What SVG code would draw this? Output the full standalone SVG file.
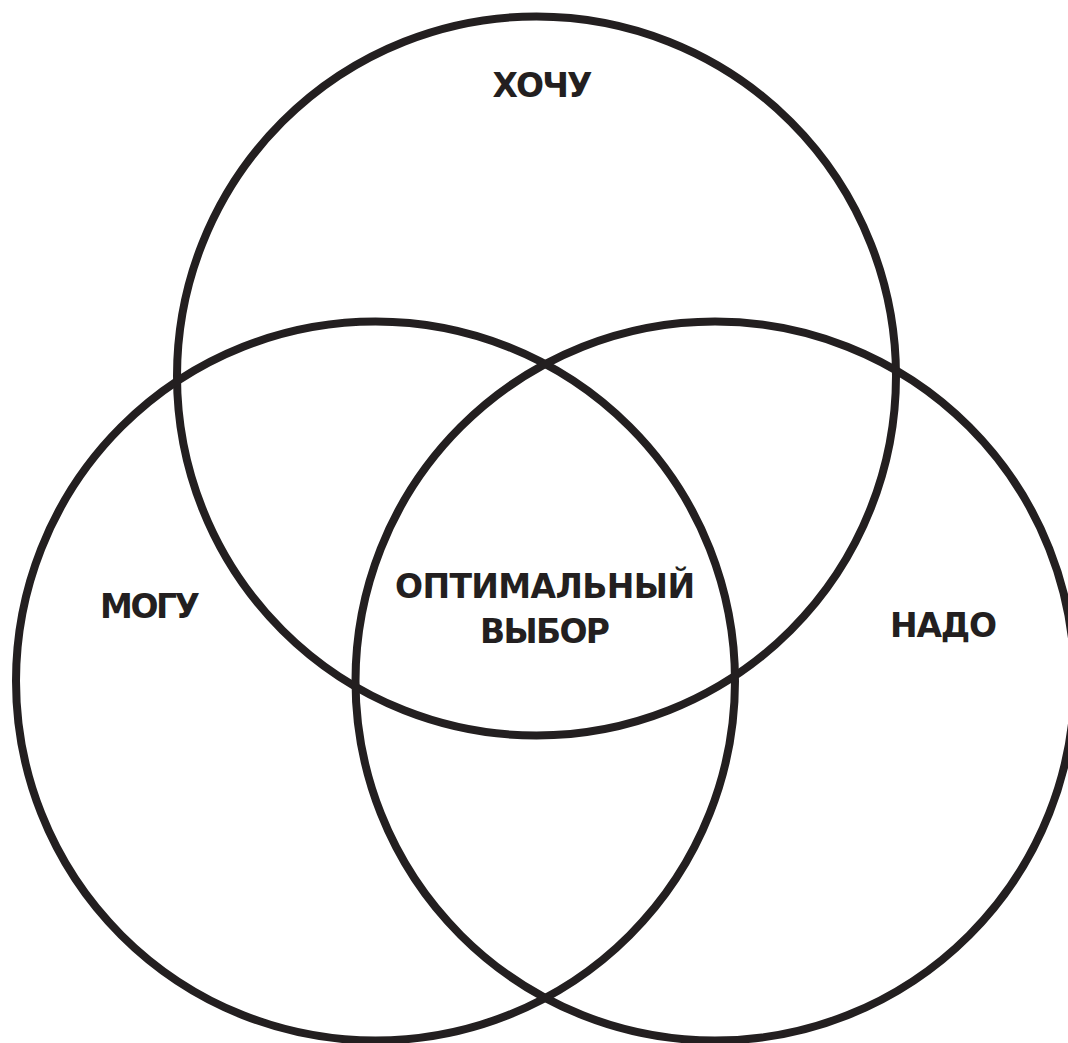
<svg xmlns="http://www.w3.org/2000/svg" width="1068" height="1043" viewBox="0 0 1068 1043">
<style>
.c{fill:none;stroke:#231f20;stroke-width:8}
.t{font-family:"DejaVu Sans","Liberation Sans",sans-serif;font-weight:bold;font-size:33px;fill:#231f20;text-anchor:middle}
</style>
<rect width="1068" height="1043" fill="#ffffff"/>
<g id="want"><circle class="c" cx="536.5" cy="376" r="359.5"/><text class="t" x="542.5" y="97" textLength="100">ХОЧУ</text></g>
<g id="can"><circle class="c" cx="375.5" cy="681" r="359.5"/><text class="t" x="150" y="618" textLength="100">МОГУ</text></g>
<g id="must"><circle class="c" cx="715" cy="681" r="359.5"/><text class="t" x="943.5" y="637" textLength="107">НАДО</text></g>
<g id="optimal"><text class="t" x="545" y="598" textLength="300">ОПТИМАЛЬНЫЙ</text><text class="t" x="545" y="643" textLength="130">ВЫБОР</text></g>
<g id="connectors"></g>
</svg>
